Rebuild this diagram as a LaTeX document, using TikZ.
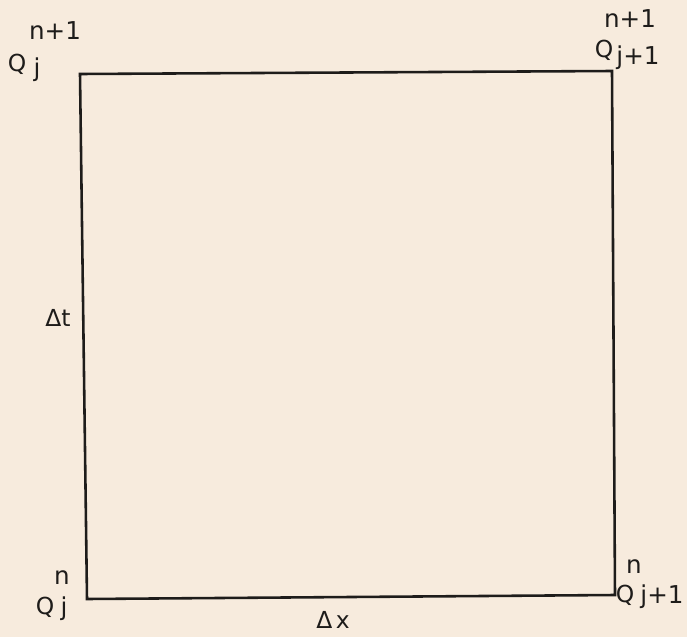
\documentclass[tikz,border=0pt]{standalone}
\usepackage{fontspec}
\setmainfont{DejaVu Sans}
\definecolor{paper}{RGB}{247,235,221}
\definecolor{ink}{RGB}{30,28,26}
\begin{document}
\begin{tikzpicture}[
 x=.03cm,y=-.03cm,
 line/.style={line width=2.2pt,draw=ink,line join=miter},
 lbl/.style={inner sep=0pt,text=ink,font=\fontsize{20}{20}\selectfont},
 sub/.style={inner sep=0pt,text=ink,font=\fontsize{21}{21}\selectfont}]
 \fill[paper] (0,0) rectangle (687,637);
 \useasboundingbox (0,0) rectangle (687,637);
 % Corners of the grid cell.
 \coordinate (tl) at (80,74); \coordinate (tr) at (612,71);
 \coordinate (br) at (615,595); \coordinate (bl) at (87,599);
 \draw[line] (tl)--(tr)--(br)--(bl)--cycle;
 % Top left: Q_j at level n+1.
 \node[sub] (tlsup) at (55,31){n+1};
 \node[lbl] (tlq) at (17,64){Q};
 \node[sub] (tlsub) at (37,70){j};
 % Top right: Q_{j+1} at level n+1.
 \node[sub] (trsup) at (630,19){n+1};
 \node[lbl] (trq) at (604,50){Q};
 \node[sub] (trsub) at (638,58){j+1};
 % Bottom left: Q_j at level n.
 \node[sub] (blsup) at (62,578){n};
 \node[lbl] (blq) at (45,607){Q};
 \node[sub] (blsub) at (64,609){j};
 % Bottom right: Q_{j+1} at level n.
 \node[sub] (brsup) at (634,567){n};
 \node[lbl] (brq) at (625,595){Q};
 \node[sub] (brsub) at (662,597){j+1};
 % Step sizes.
 \node[lbl] (dt) at (58,318){Δt};
 \node[lbl] (dx) at (333,620){Δ\kern3pt x};
\end{tikzpicture}
\end{document}
